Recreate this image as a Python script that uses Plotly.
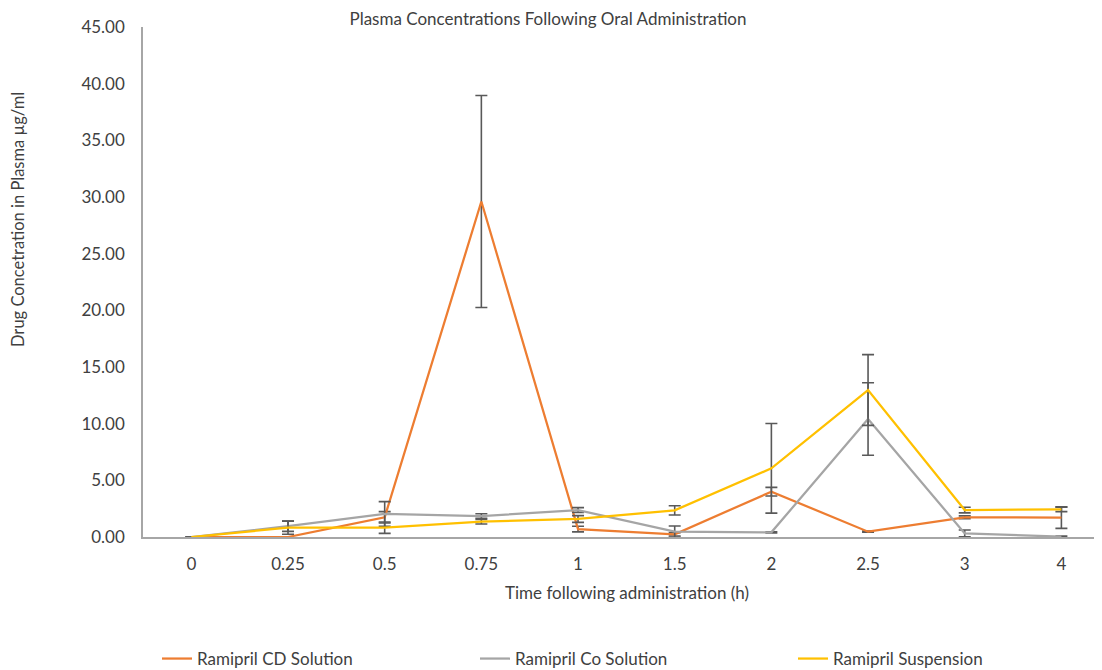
import plotly.graph_objects as go

times = ["0", "0.25", "0.5", "0.75", "1", "1.5", "2", "2.5", "3", "4"]

cd_solution = [0.0, 0.0, 1.74, 29.6, 0.70, 0.24, 4.00, 0.47, 1.74, 1.71]
cd_error = [0.0, 0.0, 0.50, 9.35, 0.25, 0.15, 0.38, 0.05, 0.12, 0.95]

co_solution = [0.0, 0.95, 2.03, 1.85, 2.38, 0.47, 0.41, 10.41, 0.32, 0.03]
co_error = [0.0, 0.45, 1.09, 0.20, 0.21, 0.50, 0.05, 3.20, 0.30, 0.05]

suspension = [0.0, 0.82, 0.82, 1.35, 1.59, 2.35, 6.06, 12.97, 2.38, 2.44]
suspension_error = [0.0, 0.58, 0.50, 0.20, 0.30, 0.41, 3.95, 3.12, 0.25, 0.20]

series_names = ["Ramipril CD Solution", "Ramipril Co Solution", "Ramipril Suspension"]
series_colors = ["#ED7D31", "#A5A5A5", "#FFC000"]

y_ticks = [0, 5, 10, 15, 20, 25, 30, 35, 40, 45]

FONT = "Lato, 'Open Sans', sans-serif"
FS = 17
TEXT = "#404040"
AXIS = "#A6A6A6"
ERR = "#595959"

fig = go.Figure()
for name, vals, errs, col in zip(series_names,
                                 [cd_solution, co_solution, suspension],
                                 [cd_error, co_error, suspension_error],
                                 series_colors):
    fig.add_trace(go.Scatter(
        x=times, y=vals, name=name, mode="lines",
        line=dict(color=col, width=2.25),
        error_y=dict(type="data", array=errs, visible=True,
                     color=ERR, thickness=1.6, width=6),
    ))

# page body has an 8px margin; work in reference pixel coords minus 8
OFF = 8
W, H = 1102 - OFF, 670 - OFF
L = 143 - OFF
T = 27 - OFF
BOT = 537 - OFF
B = H - BOT
pw, ph = W - L, BOT - T

def px_x(px):
    return (px - OFF - L) / pw

def px_y(py):
    return (BOT - (py - OFF)) / ph

fig.update_layout(
    width=W, height=H,
    margin=dict(l=L, r=0, t=T, b=B, autoexpand=False),
    paper_bgcolor="white", plot_bgcolor="white",
    font=dict(family=FONT, size=FS, color=TEXT),
    title=dict(text="Plasma Concentrations Following Oral Administration",
               x=(548 - OFF) / W, xanchor="center",
               y=1 - (19 - OFF) / H, yanchor="middle",
               xref="container", yref="container",
               font=dict(family=FONT, size=FS, color=TEXT)),
    showlegend=True,
    legend=dict(orientation="h", x=px_x(157), y=px_y(659),
                xanchor="left", yanchor="middle",
                entrywidth=273, entrywidthmode="pixels",
                font=dict(family=FONT, size=FS, color=TEXT),
                bgcolor="rgba(0,0,0,0)"),
    xaxis=dict(type="category", categoryorder="array", categoryarray=times,
               range=[-0.5, 9.42], showgrid=False, zeroline=False,
               showline=True, linecolor=AXIS, linewidth=1.5,
               ticks="", ticklabelstandoff=11,
               tickfont=dict(family=FONT, size=FS, color=TEXT)),
    yaxis=dict(range=[0, 45], tickvals=y_ticks, tickformat=".2f",
               showgrid=False, zeroline=False,
               showline=True, linecolor=AXIS, linewidth=1.5,
               ticks="", ticklabelstandoff=13,
               tickfont=dict(family=FONT, size=FS, color=TEXT)),
    annotations=[
        dict(text="Time following administration (h)", xref="paper", yref="paper",
             x=px_x(627), y=px_y(592), xanchor="center", yanchor="middle",
             showarrow=False, font=dict(family=FONT, size=FS, color=TEXT)),
        dict(text="Drug Concetration in Plasma µg/ml", xref="paper", yref="paper",
             x=px_x(18), y=px_y(220), xanchor="center", yanchor="middle",
             textangle=-90, showarrow=False,
             font=dict(family=FONT, size=16.5, color=TEXT)),
    ],
)

fig.write_html("out.html")
